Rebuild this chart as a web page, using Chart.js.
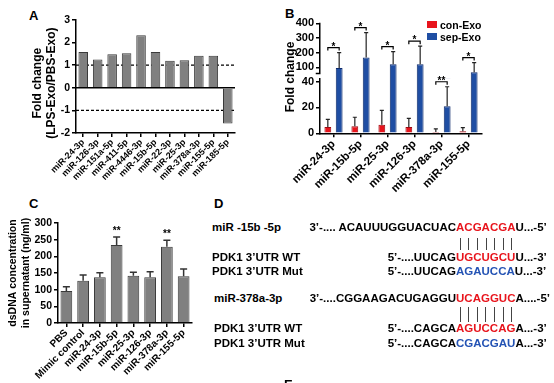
<!DOCTYPE html>
<html>
<head>
<meta charset="utf-8">
<script src="https://cdn.jsdelivr.net/npm/chart.js@4.4.1/dist/chart.umd.min.js"></script>
<style>
  body { margin: 0; width: 554px; height: 383px; position: relative; overflow: hidden; background: #fff;
         font-family: "Liberation Sans", Arial, sans-serif; font-weight: bold; color: #000; }
  canvas { position: absolute; }
  .t { position: absolute; white-space: pre; font-size: 11.5px; line-height: 11px; }
  .lab { position: absolute; font-size: 13px; line-height: 13px; }
  .r { color: #e8141c; }
  .b { color: #2453b4; }
  .p { position: relative; display: inline-block; }
  .p::after { content: ""; position: absolute; left: 50%; top: var(--lt); height: var(--lh); border-left: 1.5px solid #444; }
</style>
</head>
<body>
<div class="lab" style="left:29px;top:9px">A</div>
<div class="lab" style="left:285px;top:7px">B</div>
<div class="lab" style="left:29px;top:197px">C</div>
<div class="lab" style="left:214px;top:197px">D</div>

<canvas id="chartA" style="left:0;top:0" width="250" height="190"></canvas>
<canvas id="chartBlow" style="left:270px;top:0" width="284" height="200"></canvas>
<canvas id="chartBtop" style="left:270px;top:0" width="284" height="90"></canvas>
<canvas id="chartC" style="left:0;top:190px" width="210" height="193"></canvas>

<!-- legende e titulo do painel B (eixo quebrado, por isso fora do canvas) -->
<div style="position:absolute;left:427px;top:21px;width:10px;height:7px;background:#e8141c"></div>
<div style="position:absolute;left:427px;top:33px;width:10px;height:7px;background:#1f4ea3"></div>
<div class="t" style="left:440px;top:20px;font-size:10.5px">con-Exo</div>
<div class="t" style="left:440px;top:32px;font-size:10.5px">sep-Exo</div>
<div class="t" style="left:254px;top:71px;width:72px;text-align:center;font-size:12px;line-height:12px;transform:rotate(-90deg)">Fold change</div>

<!-- painel D: sequencias -->
<div class="t" style="left:212px;top:222px">miR -15b -5p</div>
<div class="t" style="left:0;top:222px;width:456px;text-align:right">3’-.... ACAUUUGGUACUAC</div>
<div class="t" style="left:456px;top:222px;--lt:16px;--lh:12px"><span class="r"><span class="p">A</span><span class="p">C</span><span class="p">G</span><span class="p">A</span><span class="p">C</span><span class="p">G</span><span class="p">A</span></span>U...-5’</div>
<div class="t" style="left:212px;top:252px">PDK1 3’UTR WT</div>
<div class="t" style="left:0;top:252px;width:456px;text-align:right">5’-....UUCAG</div>
<div class="t" style="left:456px;top:252px"><span class="r">UGCUGCU</span>U...-3’</div>
<div class="t" style="left:212px;top:266px">PDK1 3’UTR Mut</div>
<div class="t" style="left:0;top:266px;width:456px;text-align:right">5’-....UUCAG</div>
<div class="t" style="left:456px;top:266px"><span class="b">AGAUCCA</span>U...-3’</div>

<div class="t" style="left:214px;top:293px">miR-378a-3p</div>
<div class="t" style="left:0;top:293px;width:456px;text-align:right">3’-....CGGAAGACUGAGGU</div>
<div class="t" style="left:456px;top:293px;--lt:14px;--lh:15px"><span class="r"><span class="p">U</span><span class="p">C</span><span class="p">A</span><span class="p">G</span><span class="p">G</span><span class="p">U</span><span class="p">C</span></span>A....-5’</div>
<div class="t" style="left:214px;top:323px">PDK1 3’UTR WT</div>
<div class="t" style="left:0;top:323px;width:456px;text-align:right">5’-....CAGCA</div>
<div class="t" style="left:456px;top:323px"><span class="r">AGUCCAG</span>A...-3’</div>
<div class="t" style="left:214px;top:338px">PDK1 3’UTR Mut</div>
<div class="t" style="left:0;top:338px;width:456px;text-align:right">5’-....CAGCA</div>
<div class="t" style="left:456px;top:338px"><span class="b">CGACGAU</span>A...-3’</div>
<div class="lab" style="left:284px;top:378px">E</div>

<script>
// ---- dados ----
// A: fold change LPS-Exo / PBS-Exo
const catsA = ['miR-24-3p', 'miR-126-3p', 'miR-151a-5p', 'miR-411-5p', 'miR-4446-3p', 'miR-15b-5p',
               'miR-22-3p', 'miR-25-3p', 'miR-378a-3p', 'miR-155-5p', 'miR-185-5p'];
const foldA = [1.58, 1.25, 1.48, 1.53, 2.32, 1.58, 1.2, 1.22, 1.42, 1.42, -1.58];
const ticksA = [-2, -1, 0, 1, 2, 3];
const dashedA = [1, -1];

// B: con-Exo x sep-Exo (eixo quebrado)
const catsB = ['miR-24-3p', 'miR-15b-5p', 'miR-25-3p', 'miR-126-3p', 'miR-378a-3p', 'miR-155-5p'];
const conExo = [4.9, 5.4, 6.7, 4.9, 1.0, 1.6];
const conErr = [5.9, 7.0, 11.1, 6.7, 2.4, 2.8];
const sepExo = [95, 167, 121, 120, 21, 66];
const sepErr = [105, 170, 86, 124, 15, 66];
const sigB = ['*', '*', '*', '*', '**', '*'];
const ticksBtop = [100, 200, 300, 400];
const ticksBlow = [0, 10, 20, 30, 40];

// C: dsDNA no sobrenadante
const catsC = ['PBS', 'Mimic control', 'miR-24-3p', 'miR-15b-5p', 'miR-25-3p', 'miR-126-3p', 'miR-378a-3p', 'miR-155-5p'];
const dsDNA = [96, 127, 137, 234, 142, 137, 229, 140];
const dsErr = [13, 17, 14, 24, 10, 17, 19, 22];
const sigC = ['', '', '', '**', '', '', '**', ''];
const ticksC = [0, 50, 100, 150, 200, 250, 300];

// ---- estilo comum ----
const FONT = '"Liberation Sans", Arial, sans-serif';
Chart.defaults.font.family = FONT;
Chart.defaults.font.weight = 'bold';
Chart.defaults.color = '#000';
Chart.defaults.animation = false;
Chart.defaults.responsive = false;
Chart.defaults.plugins.legend.display = false;
Chart.defaults.plugins.tooltip.enabled = false;

const grey = '#808080', greyEdge = '#3a3a3a';
const red = '#e8141c', redEdge = '#9a0a10';
const blue = '#1f4ea3', blueEdge = '#0d2a6b';
const border = { color: '#000', width: 1.5 };
const yGrid = { drawOnChartArea: false, tickLength: 4, color: '#000', lineWidth: 1.5 };
const xGrid = { drawOnChartArea: false, offset: false, tickLength: 4, color: '#000', lineWidth: 1.5 };
const useTicks = arr => scale => { scale.ticks = arr.map(v => ({ value: v })); };

// linhas de referencia (tracejadas) e linha do zero
const refLines = {
  id: 'refLines',
  beforeDatasetsDraw(chart, args, opts) {
    const { ctx, chartArea: a, scales: { y } } = chart;
    ctx.save();
    ctx.strokeStyle = '#000';
    ctx.lineWidth = 1.2;
    ctx.setLineDash([3, 2]);
    for (const v of opts.dashed || []) {
      const py = y.getPixelForValue(v);
      ctx.beginPath(); ctx.moveTo(a.left, py); ctx.lineTo(a.right, py); ctx.stroke();
    }
    ctx.setLineDash([]);
    ctx.lineWidth = 1.5;
    for (const v of opts.solid || []) {
      const py = y.getPixelForValue(v);
      ctx.beginPath(); ctx.moveTo(a.left, py); ctx.lineTo(a.right, py); ctx.stroke();
    }
    ctx.restore();
  }
};

// barras de erro (so para cima, estilo GraphPad)
const errorBars = {
  id: 'errorBars',
  afterDatasetsDraw(chart, args, opts) {
    const { ctx, chartArea: a, scales: { y } } = chart;
    ctx.save();
    ctx.beginPath(); ctx.rect(a.left, a.top - 1, a.width, a.height + 1); ctx.clip();
    ctx.strokeStyle = opts.color || '#222';
    ctx.lineWidth = opts.width || 1.2;
    chart.data.datasets.forEach((ds, di) => {
      if (!ds.errors) return;
      chart.getDatasetMeta(di).data.forEach((bar, i) => {
        const top = ds.data[i] + ds.errors[i];
        if (opts.floor != null && top < opts.floor) return;
        const yt = y.getPixelForValue(top);
        const cap = bar.width * (opts.cap || 0.3);
        ctx.beginPath();
        ctx.moveTo(bar.x, bar.y); ctx.lineTo(bar.x, yt);
        ctx.moveTo(bar.x - cap, yt); ctx.lineTo(bar.x + cap, yt);
        ctx.stroke();
      });
    });
    ctx.restore();
  }
};

// asteriscos de significancia (+ colchete quando ha dois grupos)
const sigMarks = {
  id: 'sigMarks',
  afterDatasetsDraw(chart, args, opts) {
    if (!opts.labels) return;
    const { ctx, scales: { y } } = chart;
    const sets = chart.data.datasets;
    const metas = sets.map((d, i) => chart.getDatasetMeta(i));
    ctx.save();
    ctx.strokeStyle = '#000'; ctx.fillStyle = '#000'; ctx.lineWidth = 1.2;
    ctx.font = 'bold ' + opts.size + 'px ' + FONT;
    ctx.textAlign = 'center'; ctx.textBaseline = 'alphabetic';
    opts.labels.forEach((lab, i) => {
      if (!lab) return;
      const top = Math.max(...sets.map(d => d.data[i] + (d.errors ? d.errors[i] : 0)));
      if (opts.min != null && top < opts.min) return;
      if (opts.max != null && top > opts.max) return;
      const yt = y.getPixelForValue(top) - opts.gap;
      const xs = metas.map(m => m.data[i].x);
      const x0 = Math.min(...xs), x1 = Math.max(...xs);
      if (x1 > x0) {
        ctx.beginPath();
        ctx.moveTo(x0, yt + 3); ctx.lineTo(x0, yt); ctx.lineTo(x1, yt); ctx.lineTo(x1, yt + 3);
        ctx.stroke();
      }
      ctx.fillText(lab, (x0 + x1) / 2, yt + opts.lift);
    });
    ctx.restore();
  }
};

// segmento superior do eixo quebrado
const axisBreak = {
  id: 'axisBreak',
  afterDraw(chart, args, opts) {
    if (opts.floor == null) return;
    const { ctx, chartArea: a, scales: { y } } = chart;
    const x = Math.round(a.left - 0.75) + 0.75;
    const yb = y.getPixelForValue(opts.floor);
    ctx.save();
    ctx.strokeStyle = '#000'; ctx.lineWidth = 1.5;
    ctx.beginPath(); ctx.moveTo(x, a.top - 0.5); ctx.lineTo(x, yb); ctx.lineTo(x - 4, yb); ctx.stroke();
    ctx.restore();
  }
};

// ---- A ----
new Chart(document.getElementById('chartA'), {
  type: 'bar',
  data: {
    labels: catsA,
    datasets: [{ data: foldA, backgroundColor: grey, borderColor: greyEdge, borderWidth: 1,
                 categoryPercentage: 1, barPercentage: 0.66 }]
  },
  options: {
    layout: { padding: { left: 23, top: 20, right: 15, bottom: 0 } },
    plugins: { refLines: { dashed: dashedA, solid: [0] } },
    scales: {
      x: { grid: xGrid, border,
           ticks: { font: { size: 9 }, minRotation: 45, maxRotation: 45, autoSkip: false, padding: 0 },
           afterFit: s => { s.height = 57; } },
      y: { min: -2, max: 3, afterBuildTicks: useTicks(ticksA), grid: yGrid, border,
           ticks: { font: { size: 10.5 }, padding: 2 },
           // espacos no fim deslocam o texto para baixo, como na figura
           title: { display: true, text: ['Fold change    ', '(LPS-Exo/PBS-Exo)    '], font: { size: 12 }, padding: { top: 7, bottom: 0 } },
           afterFit: s => { s.width = 53; } }
    }
  },
  plugins: [refLines]
});

// ---- B (duas partes do eixo quebrado) ----
const barsB = () => [
  { label: 'con-Exo', data: conExo, errors: conErr, backgroundColor: red, borderColor: redEdge, borderWidth: 1 },
  { label: 'sep-Exo', data: sepExo, errors: sepErr, backgroundColor: blue, borderColor: blueEdge, borderWidth: 1 }
];
const barOpts = { bar: { categoryPercentage: 0.84, barPercentage: 0.6 } };

new Chart(document.getElementById('chartBlow'), {
  type: 'bar',
  data: { labels: catsB, datasets: barsB() },
  options: {
    datasets: barOpts,
    layout: { padding: { left: 0, top: 79, right: 72, bottom: 0 } },
    plugins: { errorBars: { cap: 0.3 }, sigMarks: { labels: sigB, max: 42, gap: 5, lift: 2, size: 10 } },
    scales: {
      x: { grid: xGrid, border,
           ticks: { font: { size: 11.5 }, minRotation: 45, maxRotation: 45, autoSkip: false, padding: 0 },
           afterFit: s => { s.height = 66.7; } },
      y: { min: 0, max: 42, afterBuildTicks: useTicks(ticksBlow), grid: yGrid, border,
           ticks: { font: { size: 11 }, padding: 2 },
           afterFit: s => { s.width = 50; } }
    }
  },
  plugins: [errorBars, sigMarks]
});

new Chart(document.getElementById('chartBtop'), {
  type: 'bar',
  data: { labels: catsB, datasets: barsB() },
  options: {
    datasets: barOpts,
    layout: { padding: { left: 0, top: 23.3, right: 72, bottom: 11 } },
    plugins: { errorBars: { floor: 58, cap: 0.3 }, sigMarks: { labels: sigB, min: 58, gap: 5, lift: 2, size: 10 },
               axisBreak: { floor: 58 } },
    scales: {
      x: { display: false },
      y: { min: 20, max: 400, afterBuildTicks: useTicks(ticksBtop), grid: yGrid, border: { display: false },
           ticks: { font: { size: 11 }, padding: 2 },
           afterFit: s => { s.width = 50; } }
    }
  },
  plugins: [errorBars, sigMarks, axisBreak]
});

// ---- C ----
new Chart(document.getElementById('chartC'), {
  type: 'bar',
  data: {
    labels: catsC,
    datasets: [{ data: dsDNA, errors: dsErr, backgroundColor: grey, borderColor: greyEdge, borderWidth: 1,
                 categoryPercentage: 1, barPercentage: 0.7 }]
  },
  options: {
    layout: { padding: { left: 1, top: 33, right: 18, bottom: 0 } },
    plugins: { errorBars: { color: '#333', width: 1.5, cap: 0.3 }, sigMarks: { labels: sigC, gap: 3, lift: 0, size: 10 } },
    scales: {
      x: { grid: xGrid, border,
           ticks: { font: { size: 10 }, minRotation: 45, maxRotation: 45, autoSkip: false, padding: 0 },
           afterFit: s => { s.height = 60; } },
      y: { min: 0, max: 300, afterBuildTicks: useTicks(ticksC), grid: yGrid, border,
           ticks: { font: { size: 10.5 }, padding: 2 },
           title: { display: true, text: ['dsDNA concentration', 'in supernatant (ng/ml)'], font: { size: 10.5 }, padding: { top: 6, bottom: 0 } },
           afterFit: s => { s.width = 57; } }
    }
  },
  plugins: [errorBars, sigMarks]
});
</script>
</body>
</html>
